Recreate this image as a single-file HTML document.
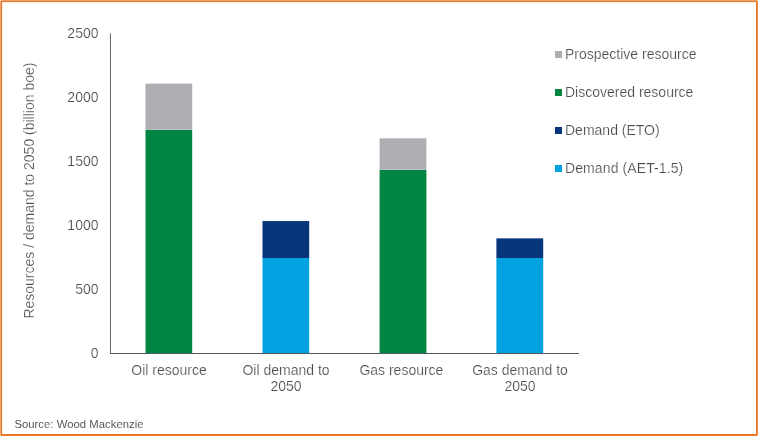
<!DOCTYPE html>
<html>
<head>
<meta charset="utf-8">
<title>Resources / demand to 2050</title>
<style>
html,body{margin:0;padding:0;background:#fff;}
body{width:758px;height:436px;overflow:hidden;position:relative;}
svg{display:block;position:absolute;left:0;top:0;}
text{font-family:"Liberation Sans",sans-serif;fill:#474c51;stroke:#ffffff;stroke-width:0.2px;}
</style>
</head>
<body>
<svg width="758" height="436" viewBox="0 0 758 436">
  <rect x="0" y="0" width="758" height="436" fill="#ffffff"/>
  <!-- border -->
  <g shape-rendering="crispEdges">
    <rect x="0" y="0" width="758" height="1" fill="#f0a06a"/>
    <rect x="0" y="0" width="1" height="436" fill="#f0a06a"/>
    <rect x="1" y="1" width="757" height="1" fill="#ea7a2e"/>
    <rect x="1" y="1" width="1" height="435" fill="#ea7a2e"/>
    <rect x="1" y="434" width="757" height="2" fill="#ea7828"/>
    <rect x="756" y="1" width="1" height="435" fill="#ea7a2e"/>
    <rect x="757" y="1" width="1" height="434" fill="#ee8844"/>
    <rect x="2" y="2" width="754" height="1" fill="#fdf1e8"/>
    <rect x="2" y="2" width="1" height="432" fill="#fdf1e8"/>
    <rect x="0" y="0" width="1" height="1" fill="#fbe6d8"/>
    <rect x="757" y="0" width="1" height="1" fill="#f8d3b8"/>
    <rect x="0" y="435" width="1" height="1" fill="#f8d3b8"/>
    <rect x="757" y="435" width="1" height="1" fill="#f8d3b8"/>
  </g>

  <!-- bars -->
  <g>
  <rect x="145.5" y="83.6" width="46.7" height="46.2" fill="#adafb2"/>
  <rect x="145.5" y="130" width="46.7" height="223.3" fill="#008542"/>

  <rect x="262.5" y="221.05" width="46.7" height="37.2" fill="#06357a"/>
  <rect x="262.5" y="258" width="46.7" height="95.3" fill="#00a3e0"/>

  <rect x="379.6" y="138.35" width="46.8" height="31.45" fill="#adafb2"/>
  <rect x="379.6" y="170" width="46.8" height="183.3" fill="#008542"/>

  <rect x="496.4" y="238.35" width="46.8" height="19.9" fill="#06357a"/>
  <rect x="496.4" y="258" width="46.8" height="95.3" fill="#00a3e0"/>
  </g>

  <!-- axes -->
  <rect x="109.93" y="33.4" width="1" height="320" fill="#63676b"/>
  <rect x="110" y="353" width="468.9" height="1" fill="#52575b"/>

  <!-- y labels -->
  <g font-size="14" text-anchor="end">
    <text x="98.5" y="38">2500</text>
    <text x="98.5" y="102">2000</text>
    <text x="98.5" y="166">1500</text>
    <text x="98.5" y="230">1000</text>
    <text x="98.5" y="294">500</text>
    <text x="98.5" y="358">0</text>
  </g>

  <!-- y title -->
  <text font-size="14" text-anchor="middle" transform="translate(34.4,190.6) rotate(-90)">Resources / demand to 2050 (billion boe)</text>

  <!-- x labels -->
  <g font-size="14" text-anchor="middle">
    <text x="169" y="375.3">Oil resource</text>
    <text x="286" y="375.3">Oil demand to</text>
    <text x="286" y="391">2050</text>
    <text x="401.4" y="375.3">Gas resource</text>
    <text x="520" y="375.3">Gas demand to</text>
    <text x="520" y="391">2050</text>
  </g>

  <!-- legend -->
  <g shape-rendering="crispEdges">
    <rect x="555" y="51" width="7" height="7" fill="#adafb2"/>
    <rect x="555" y="89" width="7" height="7" fill="#008542"/>
    <rect x="555" y="127" width="7" height="7" fill="#06357a"/>
    <rect x="555" y="165" width="7" height="7" fill="#00a3e0"/>
  </g>
  <g font-size="14">
    <text x="565" y="59">Prospective resource</text>
    <text x="565" y="97">Discovered resource</text>
    <text x="565" y="135">Demand (ETO)</text>
    <text x="565" y="173" letter-spacing="0.1">Demand (AET-1.5)</text>
  </g>

  <!-- source -->
  <text x="14.4" y="428" font-size="11.3" letter-spacing="0.03" style="stroke-width:0.05px">Source: Wood Mackenzie</text>
</svg>
</body>
</html>
